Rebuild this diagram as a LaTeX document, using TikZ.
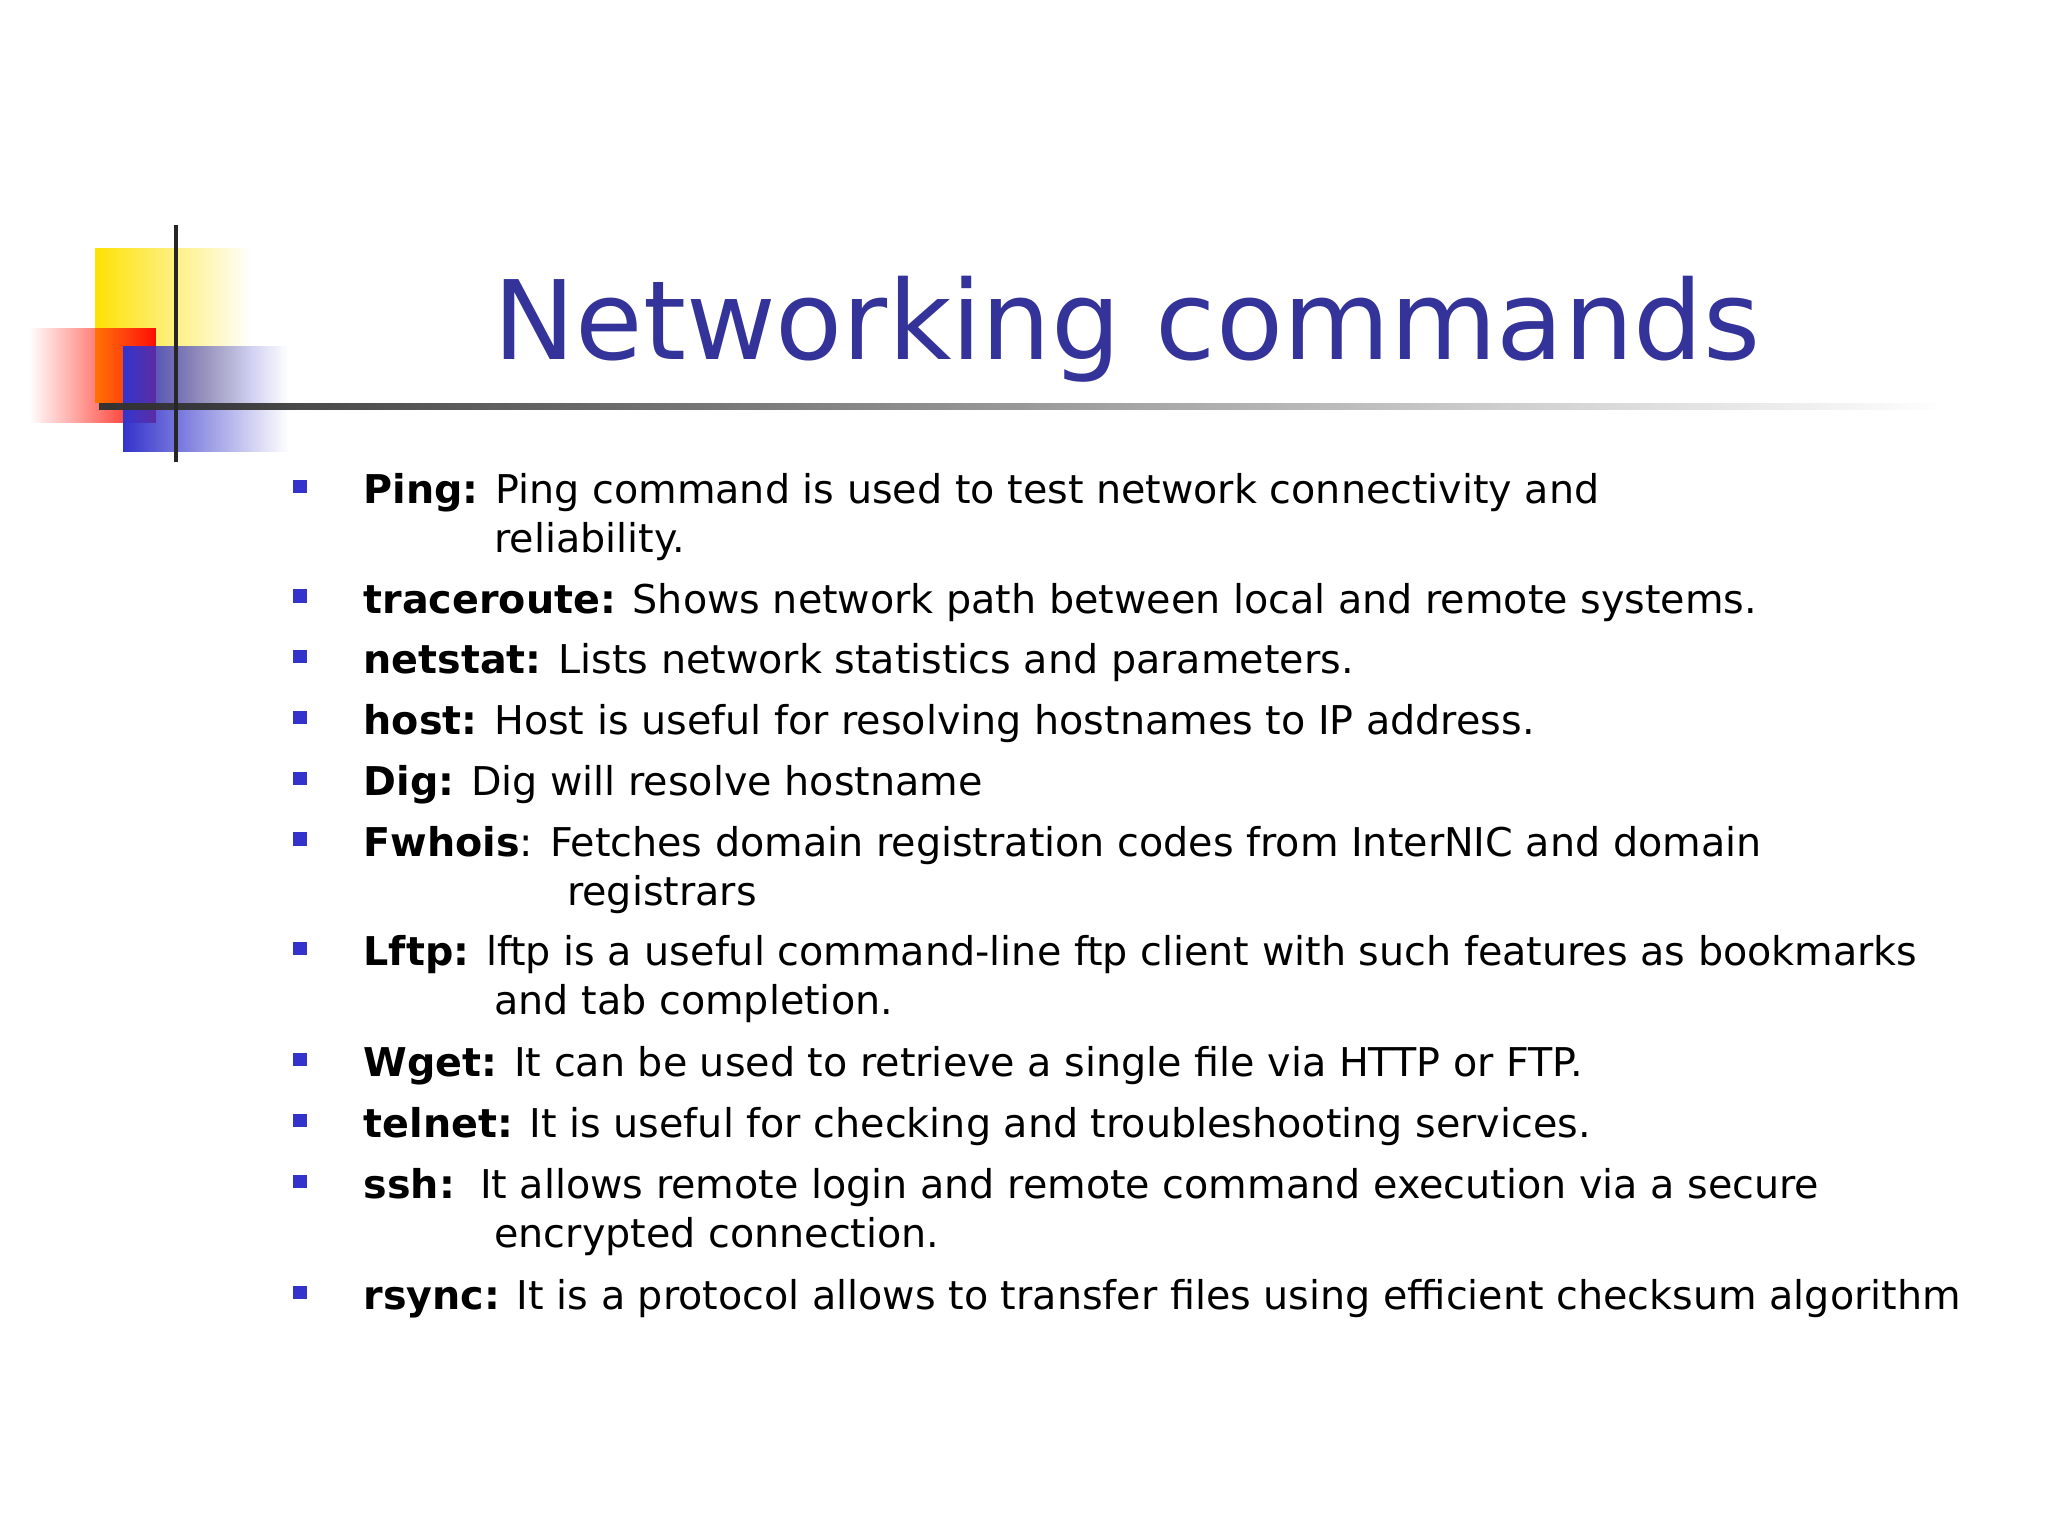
\documentclass[tikz,border=0pt]{standalone}
\usepackage{fontspec}
\setmainfont{DejaVu Sans}
\usetikzlibrary{fadings}
\definecolor{ttl}{RGB}{51,51,153}
\definecolor{bul}{RGB}{51,51,204}
\tikzset{it/.style={anchor=base west,inner sep=0pt,font=\fontsize{30}{30}\selectfont},
bl/.style={fill=bul,minimum size=10pt,inner sep=0pt}}
\begin{document}
\begin{tikzpicture}[x=1pt,y=-1pt]
\useasboundingbox (0,0) rectangle (1550,1162);
\fill[white] (0,0) rectangle (1550,1162);
\fill[yellow!85!orange,path fading=east] (72,188) rectangle (190,305);
\fill[red!90!orange,path fading=west] (22,248) rectangle (118,320);
\fill[bul,path fading=east] (93,262) rectangle (218,342);
\fill[black!80,path fading=east] (76,305) rectangle (1470,310);
\draw[line width=3pt,black!85] (133,170) -- (133,350);
\node[anchor=base,inner sep=0pt,font=\fontsize{83}{83}\selectfont,text=ttl] (t) at (853,272) {Networking commands};
\foreach \y in {368,451,497,543,589,635,718,802,848,894,978}{\node[bl] at (227,\y) {};}
\node[it] (a) at (275,381) {\textbf{Ping:} Ping command is used to test network connectivity and};
\node[it] (a2) at (374,418) {reliability.};
\node[it] (b) at (275,464) {\textbf{traceroute:} Shows network path between local and remote systems.};
\node[it] (c) at (275,510) {\textbf{netstat:} Lists network statistics and parameters.};
\node[it] (d) at (275,556) {\textbf{host:} Host is useful for resolving hostnames to IP address.};
\node[it] (e) at (275,602) {\textbf{Dig:} Dig will resolve hostname};
\node[it] (f) at (275,648) {\textbf{Fwhois}: Fetches domain registration codes from InterNIC and domain};
\node[it] (f2) at (429,685) {registrars};
\node[it] (g) at (275,731) {\textbf{Lftp:} lftp is a useful command-line ftp client with such features as bookmarks};
\node[it] (g2) at (374,768) {and tab completion.};
\node[it] (h) at (275,815) {\textbf{Wget:} It can be used to retrieve a single file via HTTP or FTP.};
\node[it] (i) at (275,861) {\textbf{telnet:} It is useful for checking and troubleshooting services.};
\node[it] (j) at (275,907) {\textbf{ssh:}\ \ It allows remote login and remote command execution via a secure};
\node[it] (j2) at (374,944) {encrypted connection.};
\node[it] (k) at (275,991) {\textbf{rsync:} It is a protocol allows to transfer files using efficient checksum algorithm};
\end{tikzpicture}
\end{document}
